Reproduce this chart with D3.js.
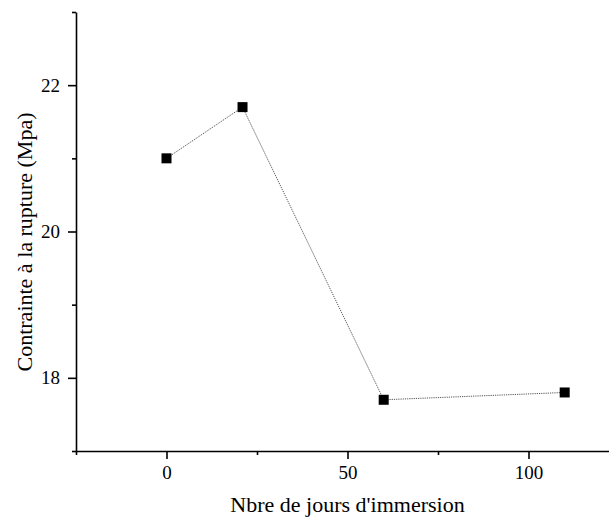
<!DOCTYPE html>
<html>
<head>
<meta charset="utf-8">
<script src="https://cdn.jsdelivr.net/npm/d3@7/dist/d3.min.js"></script>
<style>
  html, body { margin: 0; padding: 0; background: #fff; }
  svg { display: block; }
</style>
</head>
<body>
<svg id="chart" width="609" height="525"></svg>
<script>
// Immersion time (days) and breaking stress (MPa)
const days = [0, 21, 60, 110];
const stress = [21.0, 21.7, 17.7, 17.8];
const xMajorTicks = [0, 50, 100];
const xMinorTicks = [-25, 25, 75, 125];
const yMajorTicks = [18, 20, 22];
const yMinorTicks = [17, 19, 21, 23];
const xTitle = "Nbre de jours d'immersion";
const yTitle = "Contrainte à la rupture (Mpa)";

const FONT = '"Liberation Serif", "Times New Roman", serif';
const svg = d3.select("#chart");
const plotLeft = 76, plotRight = 619, plotTop = 12, plotBottom = 451;

const x = d3.scaleLinear().domain([-25, 125]).range([plotLeft, plotRight]);
const y = d3.scaleLinear().domain([17, 23]).range([plotBottom, plotTop]);

function styleAxis(g) {
  g.selectAll("path.domain").attr("stroke", "#000").attr("stroke-width", 1.6);
  g.selectAll(".tick line").attr("stroke", "#000").attr("stroke-width", 1.6);
  g.selectAll(".tick text").style("font-size", "19px").style("font-family", FONT).attr("fill", "#000");
}

// x axis: major ticks with labels, minor ticks without
const gxMinor = svg.append("g").attr("transform", `translate(0,${plotBottom})`)
  .call(d3.axisBottom(x).tickValues(xMinorTicks).tickSize(4).tickFormat(""));
const gx = svg.append("g").attr("transform", `translate(0,${plotBottom})`)
  .call(d3.axisBottom(x).tickValues(xMajorTicks).tickSize(8).tickPadding(7).tickSizeOuter(0).tickFormat(d3.format("d")));
styleAxis(gxMinor); styleAxis(gx);
gxMinor.select("path.domain").remove();

// y axis
const gyMinor = svg.append("g").attr("transform", `translate(${plotLeft},0)`)
  .call(d3.axisLeft(y).tickValues(yMinorTicks).tickSize(4).tickFormat(""));
const gy = svg.append("g").attr("transform", `translate(${plotLeft},0)`)
  .call(d3.axisLeft(y).tickValues(yMajorTicks).tickSize(8).tickPadding(8).tickSizeOuter(0).tickFormat(d3.format("d")));
styleAxis(gyMinor); styleAxis(gy);
gyMinor.select("path.domain").remove();

// connecting dotted line
const pts = days.map((d, i) => [d, stress[i]]);
svg.append("path")
  .datum(pts)
  .attr("fill", "none")
  .attr("stroke", "#555")
  .attr("stroke-width", 1)
  .attr("stroke-dasharray", "1.2,1")
  .attr("d", d3.line().x(d => x(d[0])).y(d => y(d[1])));

// square markers
const s = 10;
svg.selectAll("rect.pt")
  .data(pts)
  .enter().append("rect")
  .attr("class", "pt")
  .attr("x", d => x(d[0]) - s / 2)
  .attr("y", d => y(d[1]) - s / 2)
  .attr("width", s)
  .attr("height", s)
  .attr("fill", "#000");

// axis titles
svg.append("text")
  .attr("x", (plotLeft + plotRight) / 2)
  .attr("y", 512)
  .attr("text-anchor", "middle")
  .style("font-family", FONT)
  .style("font-size", "22px")
  .attr("fill", "#000")
  .text(xTitle);

svg.append("text")
  .attr("transform", "translate(32,242) rotate(-90)")
  .attr("text-anchor", "middle")
  .style("font-family", FONT)
  .style("font-size", "22px")
  .attr("fill", "#000")
  .text(yTitle);
</script>
</body>
</html>
